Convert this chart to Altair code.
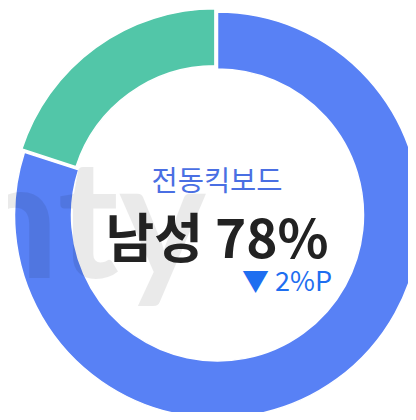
import altair as alt
import pandas as pd

categories = ["남성", "여성"]
values = [80, 20]
orders = [0, 1]
colors = ["#5881F5", "#52C6A8"]
title_text = ["전동킥보드"]
main_text = ["남성 78%"]
change_text = ["▼ 2%P"]
watermark_text = ["nty"]

df = pd.DataFrame({"category": categories, "value": values, "order": orders})

CX, CY = 209.5, 207.0
R_OUT, R_IN = 203, 146

base = alt.Chart(df).encode(
    theta=alt.Theta("value:Q", stack=True),
    color=alt.Color("category:N", scale=alt.Scale(domain=categories, range=colors), legend=None),
    order=alt.Order("order:Q"),
)

arc_blue = base.mark_arc(outerRadius=R_OUT, innerRadius=R_IN, stroke="white", strokeWidth=1.5).encode(
    x=alt.value(CX), y=alt.value(CY),
    opacity=alt.condition("datum.category == '남성'", alt.value(1), alt.value(0)),
)
arc_green = base.mark_arc(outerRadius=R_OUT, innerRadius=R_IN, stroke="white", strokeWidth=1.5).encode(
    x=alt.value(CX - 2.6), y=alt.value(CY - 3.2),
    opacity=alt.condition("datum.category == '여성'", alt.value(1), alt.value(0)),
)

wm = alt.Chart(pd.DataFrame({"t": watermark_text})).mark_text(
    font="Lato", fontWeight="bold", fontSize=165, color="#000000", opacity=0.08,
    align="right", baseline="alphabetic",
).encode(text="t:N", x=alt.value(198), y=alt.value(270))

t1 = alt.Chart(pd.DataFrame({"t": title_text})).mark_text(
    font="Noto Sans CJK KR", fontSize=28.5, color="#4A6FE3", align="center", baseline="middle",
).encode(text="t:N", x=alt.value(209), y=alt.value(174))

t2 = alt.Chart(pd.DataFrame({"t": main_text})).mark_text(
    font="Noto Sans CJK KR", fontSize=53, fontWeight="bold", color="#222222", align="center", baseline="middle",
).encode(text="t:N", x=alt.value(209), y=alt.value(234))

t3 = alt.Chart(pd.DataFrame({"t": change_text})).mark_text(
    font="Noto Sans CJK KR", fontSize=27, color="#1E6EF0", align="right", baseline="middle",
).encode(text="t:N", x=alt.value(324), y=alt.value(274.5))

chart = alt.layer(arc_blue, arc_green, wm, t1, t2, t3).properties(
    width=400, height=404, padding=0,
    autosize=alt.AutoSizeParams(type="none"),
).configure_view(stroke=None)

chart.save("out.html", embed_options={"renderer": "svg", "actions": False})
